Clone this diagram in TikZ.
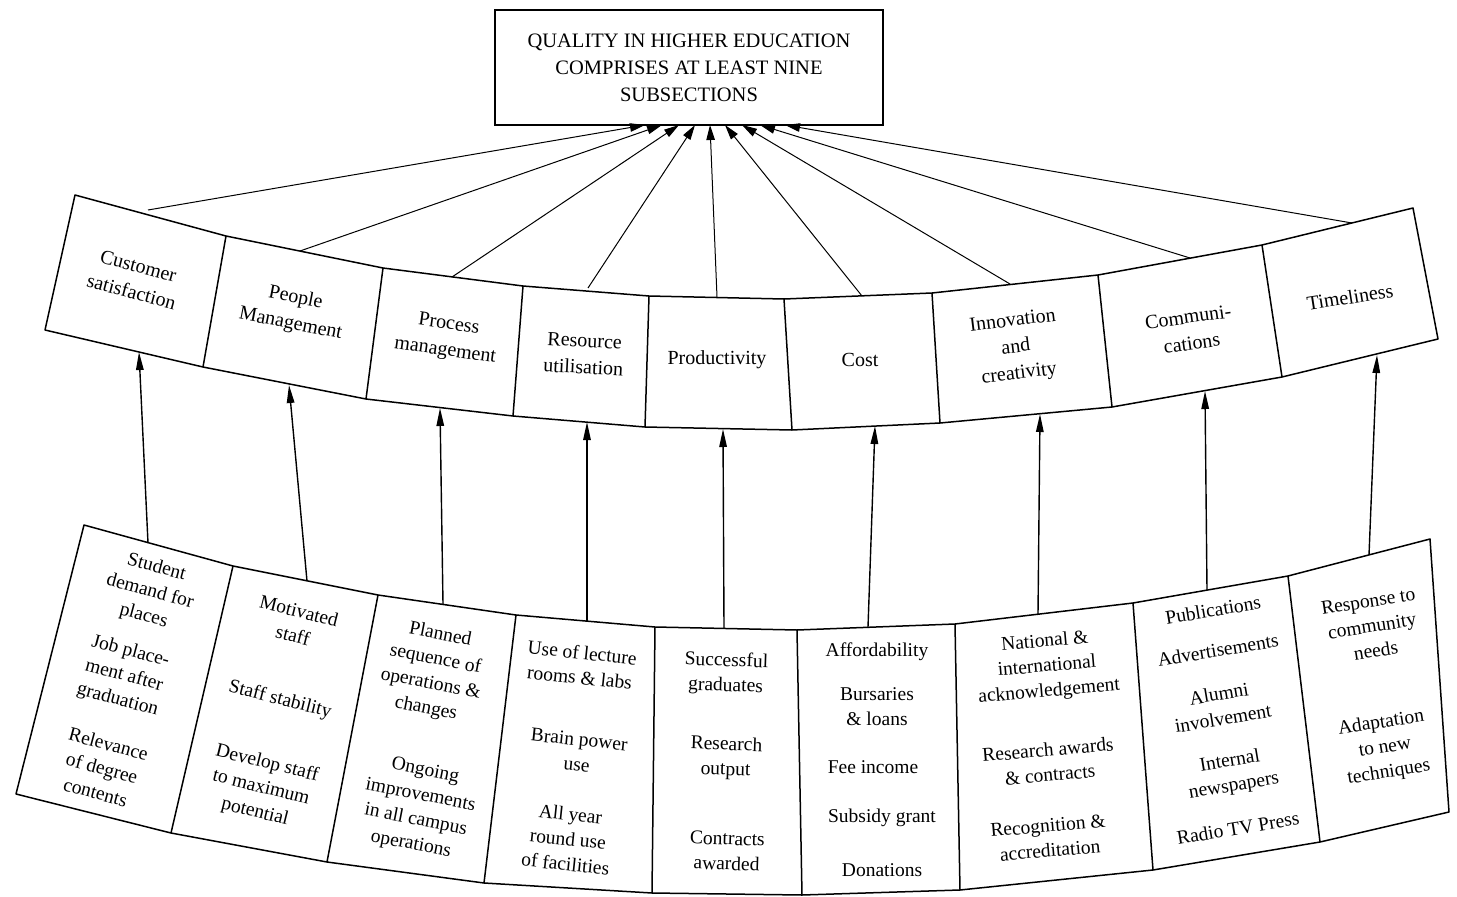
\documentclass[tikz,border=0pt]{standalone}
\usepackage{fontspec}
\setmainfont{Liberation Serif}
\usetikzlibrary{arrows.meta}
\begin{document}
\begin{tikzpicture}[x=1pt,y=-1pt,
  band/.style={line width=1.5pt, line join=round},
  feed/.style={line width=1.4pt, -{Triangle[length=18pt,width=7.5pt]}},
  spoke/.style={line width=1pt, -{Triangle[length=15pt,width=8.5pt]}},
  midtxt/.style={font=\fontsize{20}{26.5}\selectfont, align=center, inner sep=0pt},
  lowtxt/.style={font=\fontsize{19.5}{25}\selectfont, align=center, inner sep=0pt},
]
\useasboundingbox (0,0) rectangle (1457,897);

% headline box
\node[draw, line width=1.5pt, minimum width=388pt, minimum height=115pt, inner sep=0pt,
      font=\fontsize{20.5}{27}\selectfont, align=center] (head) at (689,67.5)
  {QUALITY IN HIGHER EDUCATION\\COMPRISES AT LEAST NINE\\SUBSECTIONS};

% middle band: corners along the upper and lower edges
\coordinate (mt0) at (75,195);   \coordinate (mb0) at (45,330);
\coordinate (mt1) at (226,236);  \coordinate (mb1) at (203,367);
\coordinate (mt2) at (383,268);  \coordinate (mb2) at (366,399);
\coordinate (mt3) at (523,286);  \coordinate (mb3) at (513,416);
\coordinate (mt4) at (649,296);  \coordinate (mb4) at (645,427);
\coordinate (mt5) at (784,299);  \coordinate (mb5) at (792,430);
\coordinate (mt6) at (932,293);  \coordinate (mb6) at (940,423);
\coordinate (mt7) at (1098,275); \coordinate (mb7) at (1112,407);
\coordinate (mt8) at (1262,245); \coordinate (mb8) at (1282,377);
\coordinate (mt9) at (1413,208); \coordinate (mb9) at (1438,339);

\draw[band] (mt0) -- (mt1) -- (mt2) -- (mt3) -- (mt4) -- (mt5) -- (mt6) -- (mt7) -- (mt8) -- (mt9)
  -- (mb9) -- (mb8) -- (mb7) -- (mb6) -- (mb5) -- (mb4) -- (mb3) -- (mb2) -- (mb1) -- (mb0) -- cycle;
\foreach \i in {1,...,8} \draw[band] (mt\i) -- (mb\i);

% lower band
\coordinate (lt0) at (84,525);   \coordinate (lb0) at (16,794);
\coordinate (lt1) at (233,566);  \coordinate (lb1) at (171,833);
\coordinate (lt2) at (378,595);  \coordinate (lb2) at (327,862);
\coordinate (lt3) at (516,615);  \coordinate (lb3) at (484,883);
\coordinate (lt4) at (655,627);  \coordinate (lb4) at (652,893);
\coordinate (lt5) at (797,630);  \coordinate (lb5) at (802,895);
\coordinate (lt6) at (955,624);  \coordinate (lb6) at (960,890);
\coordinate (lt7) at (1133,603); \coordinate (lb7) at (1153,870);
\coordinate (lt8) at (1288,576); \coordinate (lb8) at (1320,842);
\coordinate (lt9) at (1430,539); \coordinate (lb9) at (1449,812);

\draw[band] (lt0) -- (lt1) -- (lt2) -- (lt3) -- (lt4) -- (lt5) -- (lt6) -- (lt7) -- (lt8) -- (lt9)
  -- (lb9) -- (lb8) -- (lb7) -- (lb6) -- (lb5) -- (lb4) -- (lb3) -- (lb2) -- (lb1) -- (lb0) -- cycle;
\foreach \i in {1,...,8} \draw[band] (lt\i) -- (lb\i);

% the nine subsections
\node[midtxt, rotate=-15] (cust)  at (135,279) {Customer\\satisfaction};
\node[midtxt, rotate=-11] (peop)  at (293,311) {People\\Management};
\node[midtxt, rotate=-8]  (proc)  at (447,338) {Process\\management};
\node[midtxt, rotate=-3]  (reso)  at (584,354) {Resource\\utilisation};
\node[midtxt]             (prod)  at (717,360) {Productivity};
\node[midtxt]             (cost)  at (860,360) {Cost};
\node[midtxt, rotate=7]   (innov) at (1016,348) {Innovation\\and\\creativity};
\node[midtxt, rotate=8]   (comm)  at (1190,330) {Communi-\\cations};
\node[midtxt, rotate=9]   (time)  at (1350,297) {Timeliness};

% indicators for each subsection
\node[lowtxt, rotate=-15] (a1) at (150,592) {Student\\demand for\\places};
\node[lowtxt, rotate=-15] (a2) at (124,676) {Job place-\\ment after\\graduation};
\node[lowtxt, rotate=-15] (a3) at (102,768) {Relevance\\of degree\\contents};

\node[lowtxt, rotate=-14] (b1) at (296,623) {Motivated\\staff};
\node[lowtxt, rotate=-14] (b2) at (280,700) {Staff stability};
\node[lowtxt, rotate=-14] (b3) at (261,788) {Develop staff\\to maximum\\potential};

\node[lowtxt, rotate=-11] (c1) at (433,672) {Planned\\sequence of\\operations \&\\changes};
\node[lowtxt, rotate=-11] (c2) at (418,808) {Ongoing\\improvements\\in all campus\\operations};

\node[lowtxt, rotate=-6] (d1) at (581,665) {Use of lecture\\rooms \& labs};
\node[lowtxt, rotate=-6] (d2) at (578,752) {Brain power\\use};
\node[lowtxt, rotate=-6] (d3) at (568,839) {All year\\round use\\of facilities};

\node[lowtxt, rotate=-2] (e1) at (726,674) {Successful\\graduates};
\node[lowtxt, rotate=-2] (e2) at (726,758) {Research\\output};
\node[lowtxt, rotate=-2] (e3) at (727,851) {Contracts\\awarded};

\node[lowtxt] (f1) at (877,652) {Affordability};
\node[lowtxt] (f2) at (877,707) {Bursaries\\\& loans};
\node[lowtxt] (f3) at (873,767) {Fee income};
\node[lowtxt] (f4) at (882,818) {Subsidy grant};
\node[lowtxt] (f5) at (882,870) {Donations};

\node[lowtxt, rotate=5] (g1) at (1047,667) {National \&\\international\\acknowledgement};
\node[lowtxt, rotate=5] (g2) at (1049,762) {Research awards\\\& contracts};
\node[lowtxt, rotate=5] (g3) at (1049,838) {Recognition \&\\accreditation};

\node[lowtxt, rotate=9.5] (h1) at (1213,610) {Publications};
\node[lowtxt, rotate=9.5] (h2) at (1218,650) {Advertisements};
\node[lowtxt, rotate=9.5] (h3) at (1221,706) {Alumni\\involvement};
\node[lowtxt, rotate=9.5] (h4) at (1232,774) {Internal\\newspapers};
\node[lowtxt, rotate=9.5] (h5) at (1238,828) {Radio TV Press};

\node[lowtxt, rotate=9] (k1) at (1372,626) {Response to\\community\\needs};
\node[lowtxt, rotate=9] (k2) at (1385,748) {Adaptation\\to new\\techniques};

% arrows from the indicator band up to the subsections
\coordinate (lf1) at (148,543);  \coordinate (mf1) at (139,352);
\coordinate (lf2) at (307,581);  \coordinate (mf2) at (289,385);
\coordinate (lf3) at (443,604);  \coordinate (mf3) at (440,408);
\coordinate (lf4) at (587,621);  \coordinate (mf4) at (587,422);
\coordinate (lf5) at (724,628);  \coordinate (mf5) at (723,429);
\coordinate (lf6) at (868,627);  \coordinate (mf6) at (875,426);
\coordinate (lf7) at (1038,614); \coordinate (mf7) at (1040,414);
\coordinate (lf8) at (1207,590); \coordinate (mf8) at (1205,391);
\coordinate (lf9) at (1369,555); \coordinate (mf9) at (1377,355);
\foreach \i in {1,...,9} \draw[feed] (lf\i) -- (mf\i);

% spokes from the subsections up to the headline box
\coordinate (ms1) at (148,210);  \coordinate (hs1) at (645,125);
\coordinate (ms2) at (300,251);  \coordinate (hs2) at (662,125);
\coordinate (ms3) at (452,277);  \coordinate (hs3) at (679,125);
\coordinate (ms4) at (588,288);  \coordinate (hs4) at (695,125);
\coordinate (ms5) at (717,297);  \coordinate (hs5) at (710,125);
\coordinate (ms6) at (862,296);  \coordinate (hs6) at (725,125);
\coordinate (ms7) at (1010,284); \coordinate (hs7) at (742,125);
\coordinate (ms8) at (1190,258); \coordinate (hs8) at (760,125);
\coordinate (ms9) at (1352,223); \coordinate (hs9) at (785,125);
\foreach \i in {1,...,9} \draw[spoke] (ms\i) -- (hs\i);
\end{tikzpicture}
\end{document}
